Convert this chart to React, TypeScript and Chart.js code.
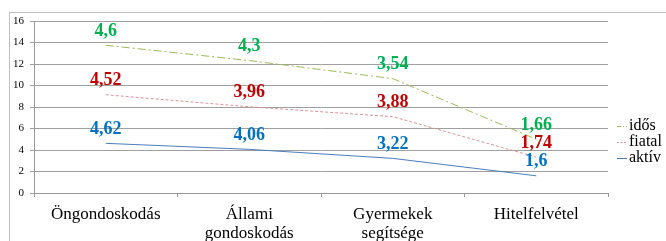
import React, { useEffect, useRef } from "react";
import { Chart, registerables } from "chart.js";

Chart.register(...registerables);

const categories: (string | string[])[] = [
  "Öngondoskodás",
  ["Állami", "gondoskodás"],
  ["Gyermekek", "segítsége"],
  "Hitelfelvétel",
];
const aktiv = [4.62, 4.06, 3.22, 1.6];
const fiatal = [4.52, 3.96, 3.88, 1.74];
const idos = [4.6, 4.3, 3.54, 1.66];
const seriesNames = ["aktív", "fiatal", "idős"];
const yMin = 0;
const yMax = 16;
const yStep = 2;

const lineColors = ["#4A7EBB", "#D99694", "#9BBB59"];
const labelColors = ["#0070C0", "#C00000", "#00B050"];
const dashes = [[], [3, 2], [8, 3, 2, 3]];

const SERIF = "'Liberation Serif', 'Times New Roman', serif";

const framePlugin = {
  id: "frame",
  beforeDraw(chart: any) {
    const ctx = chart.ctx;
    ctx.save();
    ctx.fillStyle = "#ffffff";
    ctx.fillRect(0, 0, chart.width, chart.height);
    ctx.strokeStyle = "#bfbfbf";
    ctx.lineWidth = 1;
    ctx.strokeRect(9.5, 12.5, 800, 400);
    ctx.restore();
  },
};

const valueLabelPlugin = {
  id: "valueLabels",
  afterDatasetsDraw(chart: any) {
    const ctx = chart.ctx;
    ctx.save();
    ctx.font = `bold 18px ${SERIF}`;
    ctx.textAlign = "center";
    ctx.textBaseline = "middle";
    chart.data.datasets.forEach((ds: any, i: number) => {
      const meta = chart.getDatasetMeta(i);
      ctx.fillStyle = labelColors[i];
      meta.data.forEach((pt: any, j: number) => {
        const v = ds.data[j];
        const txt = String(v).replace(".", ",");
        ctx.fillText(txt, pt.x, pt.y - 14);
      });
    });
    ctx.restore();
  },
};

const legendPlugin = {
  id: "customLegend",
  afterDraw(chart: any) {
    const ctx = chart.ctx;
    ctx.save();
    ctx.font = `16px ${SERIF}`;
    ctx.textBaseline = "middle";
    ctx.textAlign = "left";
    const order = [2, 1, 0];
    const ys = [126, 142, 158];
    order.forEach((idx, k) => {
      const y = ys[k] + 0.5;
      ctx.strokeStyle = lineColors[idx];
      ctx.lineWidth = 1;
      if (idx === 2) ctx.setLineDash([4, 2, 1, 2]);
      else if (idx === 1) ctx.setLineDash([2, 1.5]);
      else ctx.setLineDash([]);
      ctx.beginPath();
      ctx.moveTo(617, y);
      ctx.lineTo(627, y);
      ctx.stroke();
      ctx.setLineDash([]);
      ctx.fillStyle = "#000000";
      ctx.fillText(seriesNames[idx], 629, ys[k]);
    });
    ctx.restore();
  },
};

export default function App() {
  const ref = useRef<HTMLCanvasElement | null>(null);

  useEffect(() => {
    if (!ref.current) return;
    const values = [aktiv, fiatal, idos];
    const chart = new Chart(ref.current, {
      type: "line",
      data: {
        labels: categories,
        datasets: values.map((d, i) => ({
          label: seriesNames[i],
          data: d,
          borderColor: lineColors[i],
          backgroundColor: lineColors[i],
          borderWidth: 1,
          borderDash: dashes[i],
          pointRadius: 0,
          fill: false,
          tension: 0,
          stack: "s",
        })),
      },
      options: {
        responsive: false,
        animation: false,
        devicePixelRatio: 1,
        layout: { padding: { left: 0, top: 21, right: 58, bottom: 0 } },
        plugins: {
          legend: { display: false },
          tooltip: { enabled: false },
          title: { display: false },
        },
        scales: {
          x: {
            offset: true,
            grid: {
              offset: true,
              drawOnChartArea: false,
              drawTicks: true,
              tickLength: 4,
              color: "#999999",
            },
            border: { color: "#999999", width: 1 },
            ticks: {
              font: { family: SERIF, size: 17, lineHeight: 1.1 },
              color: "#000000",
              padding: 8,
              maxRotation: 0,
              autoSkip: false,
            },
            afterFit(s: any) {
              s.height = 48;
            },
          },
          y: {
            stacked: true,
            min: yMin,
            max: yMax,
            ticks: {
              stepSize: yStep,
              font: { family: SERIF, size: 11 },
              color: "#000000",
              padding: 6,
            },
            grid: {
              color: "#a0a0a0",
              lineWidth: 1,
              tickLength: 4,
            },
            border: { color: "#999999", width: 1 },
            afterFit(s: any) {
              s.width = 34;
            },
          },
        },
      },
      plugins: [framePlugin, valueLabelPlugin, legendPlugin],
    });
    return () => chart.destroy();
  }, []);

  return (
    <div style={{ position: "absolute", left: 0, top: 0, width: 666, height: 241, overflow: "hidden" }}>
      <canvas ref={ref} width={666} height={241} style={{ display: "block" }} />
    </div>
  );
}
